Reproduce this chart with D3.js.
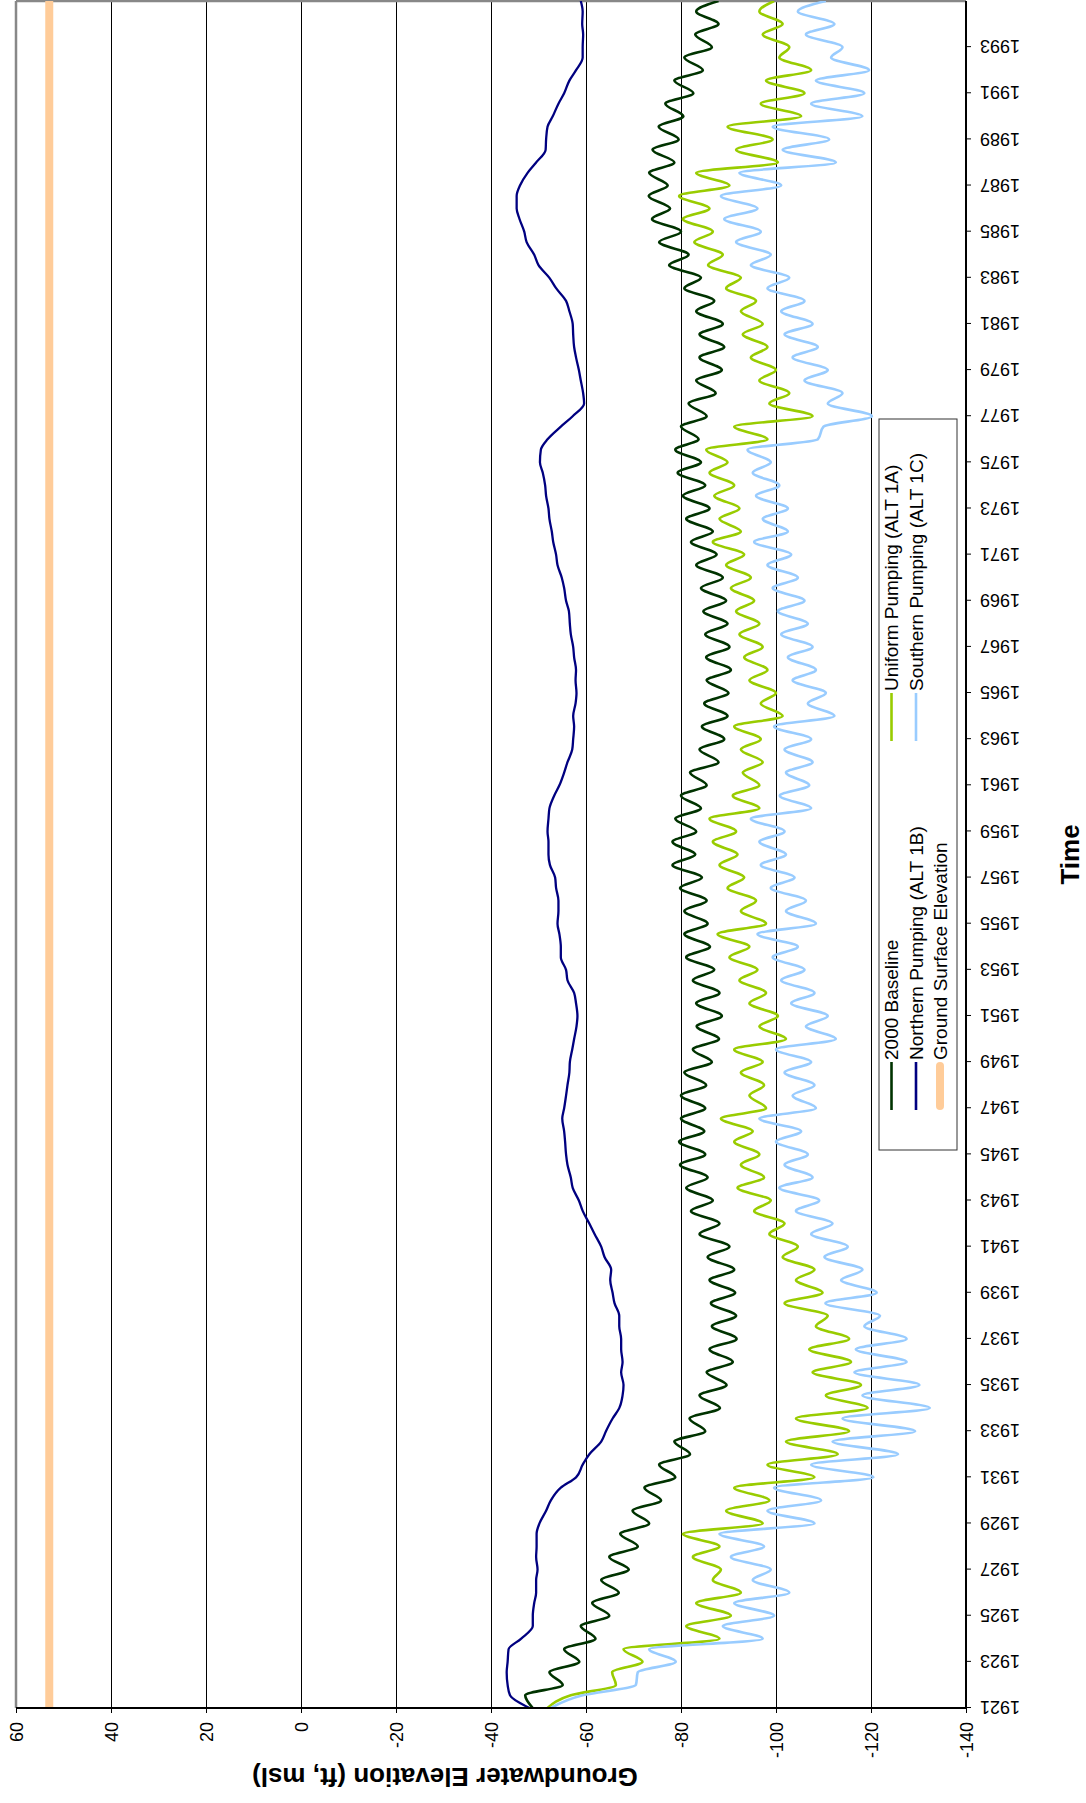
<!DOCTYPE html>
<html><head><meta charset="utf-8">
<script src="https://cdn.jsdelivr.net/npm/d3@7"></script>
<style>
html,body{margin:0;padding:0;background:#fff;}
svg{display:block;font-family:"Liberation Sans",Arial,sans-serif;}
</style></head><body>
<svg id="chart" width="1086" height="1803"></svg>
<script>
// ---------- DATA ----------
const years = d3.range(1921, 1996);            // annual low points (1921 .. 1995)
const tickYears = d3.range(1921, 1994, 2);     // axis labels
const elevTicks = [60, 40, 20, 0, -20, -40, -60, -80, -100, -120, -140];
const highOffset = 0.55;                       // seasonal high within each year

const baselineLow = [-48.8,-55.1,-58.6,-62.0,-64.9,-66.9,-69.0,-70.9,-73.3,-75.8,
  -78.8,-81.9,-85.1,-88.2,-89.6,-90.9,-91.7,-91.6,-91.4,-91.2,
  -90.2,-88.1,-86.7,-85.6,-85.1,-84.9,-85.1,-85.3,-86.5,-88.0,
  -88.6,-88.1,-87.0,-86.1,-85.6,-85.4,-84.4,-83.0,-83.2,-84.2,
  -85.4,-87.9,-89.1,-89.8,-90.0,-90.5,-90.2,-89.8,-89.5,-88.8,
  -87.5,-86.7,-86.0,-85.1,-84.2,-83.7,-85.4,-87.3,-88.6,-89.1,
  -88.8,-87.0,-84.2,-81.6,-80.0,-77.7,-77.2,-78.6,-79.5,-80.5,
  -82.6,-84.6,-86.5,-87.9,-87.9];
const baselineHigh = [-47.2,-52.3,-55.4,-58.9,-61.3,-63.2,-64.9,-67.2,-69.8,-72.3,
  -75.4,-78.6,-81.8,-83.9,-85.4,-86.0,-86.5,-86.3,-86.0,-85.6,
  -83.9,-82.1,-81.1,-79.8,-79.6,-80.0,-80.0,-80.7,-82.5,-83.3,
  -83.2,-82.5,-81.1,-80.7,-80.7,-79.8,-78.2,-78.2,-78.8,-80.0,
  -81.9,-83.9,-84.4,-84.9,-85.4,-85.3,-85.1,-84.7,-84.2,-83.2,
  -82.1,-81.1,-80.4,-79.3,-78.8,-80.0,-81.6,-83.2,-83.9,-83.9,
  -83.2,-80.7,-77.5,-75.4,-73.9,-73.2,-73.3,-74.0,-75.3,-76.7,
  -78.6,-80.7,-83.0,-83.2];

const northernLow = [-48.1,-43.5,-43.5,-46.3,-48.8,-49.5,-49.8,-49.6,-50.2,-52.6,
  -57.9,-60.7,-64.2,-67.0,-67.9,-67.7,-67.4,-67.0,-65.6,-65.3,
  -63.2,-60.7,-58.5,-56.8,-55.8,-55.4,-55.4,-56.1,-56.6,-57.5,
  -58.2,-57.5,-55.8,-54.7,-54.0,-54.2,-53.5,-52.1,-51.9,-52.3,
  -54.4,-56.1,-57.3,-57.3,-58.0,-57.9,-57.3,-56.6,-55.8,-54.9,
  -53.7,-52.8,-52.1,-51.4,-50.3,-51.9,-57.2,-59.4,-58.5,-57.5,
  -57.2,-55.8,-52.3,-49.1,-47.0,-45.4,-46.1,-49.5,-51.6,-53.0,
  -55.4,-57.9,-59.3,-59.2,-58.9];
const northernHigh = [-44.0,-43.3,-43.7,-48.8,-49.1,-49.5,-49.5,-49.6,-51.6,-54.7,
  -59.3,-63.2,-65.6,-67.7,-67.4,-67.4,-67.0,-66.0,-65.1,-63.9,
  -61.8,-59.3,-57.2,-56.1,-55.6,-55.0,-55.8,-56.5,-57.1,-58.0,
  -57.9,-56.1,-54.7,-54.4,-54.2,-53.7,-52.4,-52.1,-52.1,-53.3,
  -55.4,-57.1,-57.5,-57.8,-57.8,-57.5,-56.8,-56.4,-55.4,-54.0,
  -53.1,-52.3,-51.6,-50.9,-50.5,-54.7,-59.6,-58.9,-57.9,-57.3,
  -56.5,-53.7,-50.0,-47.5,-46.0,-45.4,-47.7,-51.5,-51.9,-54.2,
  -56.5,-59.3,-59.4,-59.3];

const uniformLow = [-51.9,-66.3,-71.9,-88.1,-90.5,-92.6,-88.4,-88.1,-97.2,-98.6,
  -108.1,-113.0,-115.4,-119.3,-117.9,-115.8,-115.4,-110.9,-109.8,-108.1,
  -104.6,-101.8,-98.9,-97.5,-96.5,-95.1,-97.9,-97.5,-97.2,-102.1,
  -100.4,-97.9,-96.1,-94.4,-97.9,-95.8,-93.3,-91.9,-91.6,-96.5,
  -96.5,-97.2,-96.8,-101.4,-100.0,-98.2,-97.2,-96.5,-95.4,-94.7,
  -93.3,-92.6,-92.3,-91.2,-89.8,-98.2,-107.7,-102.8,-100.0,-98.2,
  -97.2,-95.8,-92.6,-88.8,-86.7,-86.0,-90.2,-100.4,-99.3,-105.3,
  -106.0,-107.4,-102.8,-101.4,-99.6];
const uniformHigh = [-56.8,-65.5,-67.9,-81.1,-83.2,-86.7,-82.5,-80.4,-89.5,-91.2,
  -98.2,-102.1,-104.2,-110.5,-107.7,-107.0,-108.4,-101.8,-104.2,-101.4,
  -98.6,-95.4,-91.9,-92.6,-91.2,-88.4,-94.4,-92.6,-91.2,-96.5,
  -94.4,-92.3,-90.2,-87.7,-92.6,-89.8,-88.1,-86.7,-86.0,-90.9,
  -93.0,-92.6,-91.2,-96.8,-94.4,-93.3,-92.3,-91.6,-90.5,-89.5,
  -86.7,-88.1,-87.0,-86.0,-85.3,-91.2,-98.6,-96.5,-94.7,-93.0,
  -92.6,-89.5,-85.7,-82.8,-80.4,-79.6,-83.2,-91.6,-89.8,-96.8,
  -97.9,-100.7,-97.2,-96.5];

const southernLow = [-52.6,-70.5,-78.9,-97.2,-99.6,-102.8,-98.9,-97.5,-108.1,-109.5,
  -120.5,-125.7,-129.3,-132.4,-130.2,-127.5,-127.5,-121.9,-121.2,-118.2,
  -115.1,-111.9,-109.1,-107.7,-106.7,-105.3,-108.4,-108.1,-107.4,-112.6,
  -110.9,-108.1,-106.0,-104.6,-108.4,-106.3,-103.9,-102.1,-101.8,-107.4,
  -107.0,-107.7,-107.4,-112.3,-110.5,-108.4,-107.7,-106.7,-106.0,-104.6,
  -103.2,-102.5,-102.5,-100.7,-98.9,-108.8,-120.2,-114.0,-110.9,-108.8,
  -107.7,-106.0,-102.8,-98.9,-96.8,-96.1,-101.1,-112.6,-111.2,-118.2,
  -118.6,-119.6,-114.0,-112.3,-110.5];
const southernHigh = [-59.3,-70.9,-73.3,-88.8,-91.2,-95.1,-90.5,-88.1,-98.2,-99.6,
  -107.4,-111.9,-114.0,-118.2,-116.5,-116.8,-118.6,-110.4,-113.7,-110.2,
  -107.4,-104.2,-100.7,-101.8,-100.0,-96.5,-103.5,-101.8,-100.0,-106.3,
  -103.2,-101.1,-99.3,-96.1,-102.1,-98.9,-96.8,-96.5,-94.7,-100.8,
  -102.1,-101.8,-99.6,-106.7,-103.5,-102.5,-101.1,-100.4,-99.3,-98.2,
  -95.4,-97.2,-95.8,-95.1,-94.0,-110.0,-110.9,-106.0,-103.5,-101.8,
  -101.1,-98.2,-94.7,-91.6,-89.1,-88.4,-92.3,-101.4,-99.3,-107.4,
  -108.4,-111.6,-106.3,-104.6];

const groundYears = [1921, 1995];
const groundSurface = [53, 53];

const seriesNames = ["2000 Baseline", "Northern Pumping (ALT 1B)", "Ground Surface Elevation",
                     "Uniform Pumping (ALT 1A)", "Southern Pumping (ALT 1C)"];
const seriesColors = ["#003300", "#000080", "#FFCC99", "#99CC00", "#99CCFF"];

// ---------- LAYOUT (chart drawn upright, then rotated -90deg) ----------
const W = 1803, H = 1086;
const svg = d3.select("#chart");
const g = svg.append("g").attr("transform", `translate(0,${W}) rotate(-90)`);

const x = d3.scaleLinear().domain([1921, 1995]).range([95, 1802]);
const y = d3.scaleLinear().domain([60, -140]).range([16, 966]);

// gridlines
g.append("g").selectAll("line").data(elevTicks.filter(v => v !== 60 && v !== -140)).join("line")
  .attr("x1", x(1921)).attr("x2", x(1995))
  .attr("y1", d => y(d)).attr("y2", d => y(d))
  .attr("stroke", "#000").attr("stroke-width", 1).attr("shape-rendering", "crispEdges");

// plot border (top/right grey)
g.append("line").attr("x1", x(1921)).attr("x2", x(1995)).attr("y1", y(60)).attr("y2", y(60))
  .attr("stroke", "#888").attr("stroke-width", 2.5);
g.append("line").attr("x1", x(1995)).attr("x2", x(1995)).attr("y1", y(60)).attr("y2", y(-140))
  .attr("stroke", "#888").attr("stroke-width", 2.5);

// clip
svg.append("defs").append("clipPath").attr("id", "clip").append("rect")
  .attr("x", x(1921)).attr("y", y(60)).attr("width", x(1995) - x(1921)).attr("height", y(-140) - y(60));

function pts(lows, highs) {
  const p = years.map((yr, i) => [yr, lows[i]]);
  highs.forEach((v, i) => p.push([years[i] + highOffset, v]));
  return p.sort((a, b) => a[0] - b[0]);
}
const line = d3.line().x(d => x(d[0])).y(d => y(d[1])).curve(d3.curveMonotoneX);
const plot = g.append("g").attr("clip-path", "url(#clip)");

const seriesData = [
  {pts: pts(baselineLow, baselineHigh), color: seriesColors[0], w: 2.6},
  {pts: pts(uniformLow, uniformHigh), color: seriesColors[3], w: 2.6},
  {pts: pts(southernLow, southernHigh), color: seriesColors[4], w: 2.6},
  {pts: pts(northernLow, northernHigh), color: seriesColors[1], w: 2.3}
];
seriesData.forEach(s => {
  plot.append("path").datum(s.pts).attr("d", line)
    .attr("fill", "none").attr("stroke", s.color).attr("stroke-width", s.w)
    .attr("stroke-linejoin", "round");
});
plot.append("path").datum(groundYears.map((yr, i) => [yr, groundSurface[i]]))
  .attr("d", d3.line().x(d => x(d[0])).y(d => y(d[1])))
  .attr("stroke", seriesColors[2]).attr("stroke-width", 8).attr("fill", "none");

// axes
const plainFmt = d => String(d);
const gx = g.append("g").attr("transform", `translate(0,${y(-140)})`)
  .call(d3.axisBottom(x).tickValues(tickYears).tickFormat(plainFmt).tickSize(5).tickSizeOuter(0));
gx.select(".domain").remove();
gx.selectAll("line").attr("stroke", "#000");
gx.selectAll("text").attr("x", 0).attr("y", 0).attr("dy", "0.35em")
  .attr("text-anchor", "end").attr("transform", "translate(0,14) rotate(-90)")
  .attr("font-size", 18).attr("font-family", "Liberation Sans, Arial, sans-serif").attr("fill", "#000");

const gy = g.append("g").attr("transform", `translate(${x(1921)},0)`)
  .call(d3.axisLeft(y).tickValues(elevTicks).tickFormat(plainFmt).tickSize(5).tickSizeOuter(0));
gy.select(".domain").remove();
gy.selectAll("line").attr("stroke", "#000");
gy.selectAll("text").attr("x", -14).attr("dy", "0.35em")
  .attr("font-size", 18).attr("font-family", "Liberation Sans, Arial, sans-serif").attr("fill", "#000");

g.append("line").attr("x1", x(1921)).attr("x2", x(1995)).attr("y1", y(-140)).attr("y2", y(-140))
  .attr("stroke", "#000").attr("stroke-width", 2);
g.append("line").attr("x1", x(1921)).attr("x2", x(1921)).attr("y1", y(60)).attr("y2", y(-140))
  .attr("stroke", "#000").attr("stroke-width", 2);

// axis titles
g.append("text").attr("x", (x(1921) + x(1995)) / 2).attr("y", 1070).attr("dy", "0.35em")
  .attr("text-anchor", "middle").attr("font-weight", "bold").attr("font-size", 26).text("Time");
g.append("text").attr("transform", "translate(26,445) rotate(-90)").attr("dy", "0.35em")
  .attr("text-anchor", "middle").attr("font-weight", "bold").attr("font-size", 26)
  .text("Groundwater Elevation (ft, msl)");

// legend
const lg = g.append("g");
lg.append("rect").attr("x", 653).attr("y", 879).attr("width", 731).attr("height", 78)
  .attr("fill", "#fff").attr("stroke", "#333").attr("stroke-width", 1);
const legendItems = [
  {i: 0, col: 0, row: 0}, {i: 1, col: 0, row: 1}, {i: 2, col: 0, row: 2},
  {i: 3, col: 1, row: 0}, {i: 4, col: 1, row: 1}
];
const colX = [693, 1062], rowY = [891.5, 916, 940];
legendItems.forEach(it => {
  const cx = colX[it.col], cy = rowY[it.row];
  const thick = it.i === 2;
  lg.append("line").attr("x1", cx + (thick ? 4 : 0)).attr("x2", cx + 48 - (thick ? 4 : 0))
    .attr("y1", cy).attr("y2", cy)
    .attr("stroke", seriesColors[it.i]).attr("stroke-width", thick ? 8 : 2.6)
    .attr("stroke-linecap", thick ? "round" : "butt");
  lg.append("text").attr("x", cx + 50).attr("y", cy).attr("dy", "0.35em")
    .attr("font-size", 19).attr("fill", "#000").text(seriesNames[it.i]);
});
</script>
</body></html>
